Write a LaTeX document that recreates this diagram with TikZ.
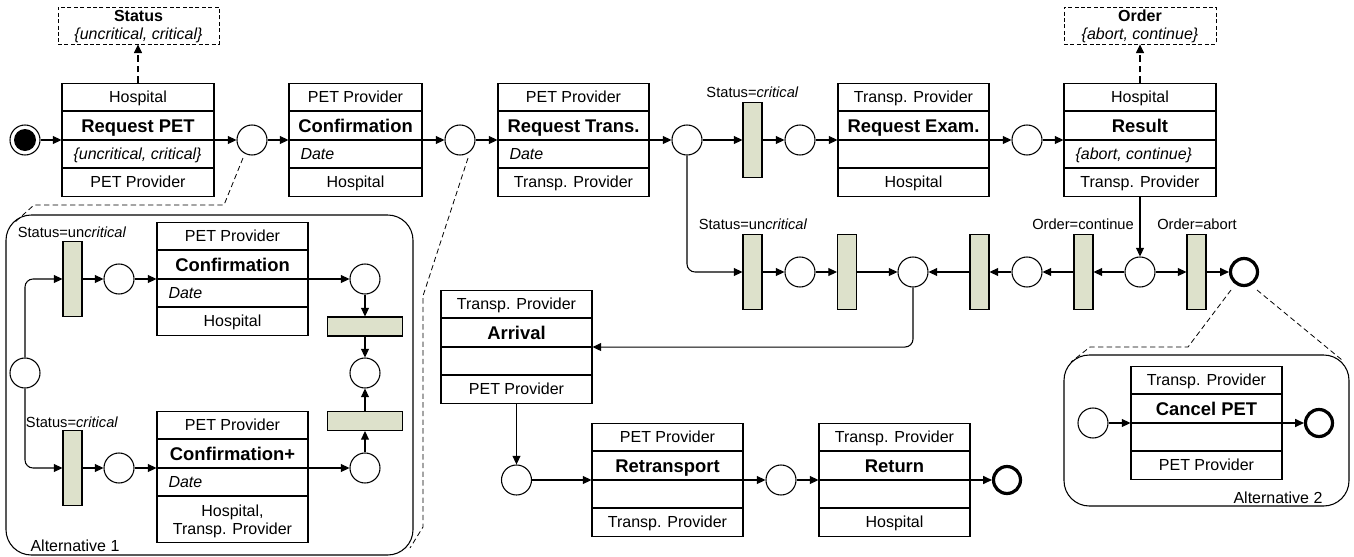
\documentclass[tikz,border=0pt]{standalone}
\usepackage{fontspec}
\setmainfont{Liberation Sans}
\usetikzlibrary{arrows.meta,calc}
\definecolor{transfill}{RGB}{221,225,203}

% #1 name, #2 cx, #3 y of arrow line, #4 width, #5 role, #6 title, #7 param, #8 receiver, #9 bottom row height
\newcommand\msgbox[9]{%
  \node[frame, minimum width=#4*0.75pt, minimum height={(85+#9)*0.75pt}, anchor=north] (#1) at (#2,{#3-57}) {};
  \draw ({#2-#4/2},{#3-29}) -- ({#2+#4/2},{#3-29});
  \draw ({#2-#4/2},#3) -- ({#2+#4/2},#3);
  \draw ({#2-#4/2},{#3+28}) -- ({#2+#4/2},{#3+28});
  \node[roletext] (#1-r) at (#2,{#3-43}) {#5};
  \node[titletext] (#1-t) at (#2,{#3-14.5}) {#6};
  \node[paramtext] (#1-p) at ({#2-#4/2+11},{#3+14}) {#7};
  \node[roletext] (#1-s) at (#2,{#3+28+#9/2}) {#8};
}

\begin{document}
\begin{tikzpicture}[x=0.75pt, y=-0.75pt, line width=0.8pt,
  basefont/.style={font=\fontsize{12}{13.5}\selectfont, inner sep=0pt},
  roletext/.style={basefont, text height=8.6pt, text depth=0pt},
  titletext/.style={font=\fontsize{13.8}{16}\selectfont\bfseries, inner sep=0pt, text height=9.9pt, text depth=0pt},
  paramtext/.style={font=\fontsize{12}{14}\selectfont\itshape, inner sep=0pt, anchor=west, text height=8.6pt, text depth=0pt},
  lbl/.style={font=\fontsize{11}{13}\selectfont, inner sep=0pt},
  frame/.style={rectangle, draw, inner sep=0pt, fill=white},
  place/.style={circle, draw, fill=white, minimum size=22.5pt, inner sep=0pt},
  endplace/.style={circle, draw, fill=white, line width=2.4pt, minimum size=20.25pt, inner sep=0pt},
  trans/.style={rectangle, draw, fill=transfill, minimum width=14.25pt, minimum height=56.25pt, inner sep=0pt},
  htrans/.style={rectangle, draw, fill=transfill, minimum width=56.25pt, minimum height=14.25pt, inner sep=0pt},
  arr/.style={-{Triangle[length=6.5pt,width=6pt]}},
  callout/.style={line width=0.6pt, dash pattern=on 4pt off 2.5pt},
  databox/.style={rectangle, draw, line width=0.6pt, dash pattern=on 3pt off 1.8pt, inner sep=0pt},
  group/.style={rectangle, draw, rounded corners=19pt, inner sep=0pt}
]
\useasboundingbox (0,0) rectangle (1354,557);

% groups
\node[group, minimum width=407*0.75pt, minimum height=340*0.75pt] (alt1) at (209.5,385) {};
\node[group, minimum width=285*0.75pt, minimum height=151*0.75pt] (alt2) at (1206.5,430.5) {};
\node[basefont, anchor=west] (alt1l) at (30,546) {Alternative 1};
\node[basefont, anchor=east] (alt2l) at (1323,498) {Alternative 2};

% callout lines
\coordinate (c1a) at (243,158); \coordinate (c1b) at (224,205); \coordinate (c1c) at (34,205); \coordinate (c1d) at (14,223);
\coordinate (c2a) at (468,158); \coordinate (c2b) at (423,296); \coordinate (c2c) at (423,527); \coordinate (c2d) at (410,548);
\coordinate (c3a) at (1231,290); \coordinate (c3b) at (1188,347); \coordinate (c3c) at (1090,347); \coordinate (c3d) at (1071,362);
\coordinate (c4a) at (1257,290); \coordinate (c4b) at (1342,360);
\draw[callout] (c1a) -- (c1b) -- (c1c) -- (c1d);
\draw[callout] (c2a) -- (c2b) -- (c2c) -- (c2d);
\draw[callout] (c3a) -- (c3b) -- (c3c) -- (c3d);
\draw[callout] (c4a) -- (c4b);

% top row
\node[place] (s0) at (25,140) {};
\node[circle, fill=black, minimum size=16.5pt, inner sep=0pt] (s0i) at (25,140) {};
\msgbox{rp}{138}{140}{152}{Hospital}{Request PET}{\{uncritical, critical\}}{PET Provider}{28}
\node[place] (p1) at (252,140) {};
\msgbox{cf}{355.5}{140}{133}{PET Provider}{Confirmation}{Date}{Hospital}{28}
\node[place] (p2) at (460,140) {};
\msgbox{rt}{573.5}{140}{151}{PET Provider}{Request Trans.}{Date}{Transp. Provider}{28}
\node[place] (p3) at (687,140) {};
\node[trans] (t1) at (752.5,140) {};
\node[lbl] (t1l) at (752.5,92) {Status=\textit{critical}};
\node[place] (p4) at (800,140) {};
\msgbox{re}{913.5}{140}{151}{Transp. Provider}{Request Exam.}{}{Hospital}{28}
\node[place] (p5) at (1027,140) {};
\msgbox{rs}{1140}{140}{152}{Hospital}{Result}{\{abort, continue\}}{Transp. Provider}{28}

% data boxes
\node[databox, minimum width=161*0.75pt, minimum height=37*0.75pt] (stat) at (138.5,25.5) {};
\node[basefont, font=\fontsize{12}{13.5}\selectfont\bfseries] (statn) at (138.5,16) {Status};
\node[basefont, font=\fontsize{12}{13.5}\selectfont\itshape] (statv) at (138.5,35) {\{uncritical, critical\}};
\node[databox, minimum width=152*0.75pt, minimum height=37*0.75pt] (ord) at (1140,25.5) {};
\node[basefont, font=\fontsize{12}{13.5}\selectfont\bfseries] (ordn) at (1140,16) {Order};
\node[basefont, font=\fontsize{12}{13.5}\selectfont\itshape] (ordv) at (1140,35) {\{abort, continue\}};
\draw[arr, dash pattern=on 5pt off 3pt] (rp.north) -- (rp.north |- stat.south);
\draw[arr, dash pattern=on 5pt off 3pt] (rs.north) -- (rs.north |- ord.south);

% top row connectors
\draw[arr] (s0) -- (s0 -| rp.west);
\draw[arr] (p1 -| rp.east) -- (p1);
\draw[arr] (p1) -- (p1 -| cf.west);
\draw[arr] (p2 -| cf.east) -- (p2);
\draw[arr] (p2) -- (p2 -| rt.west);
\draw[arr] (p3 -| rt.east) -- (p3);
\draw[arr] (p3) -- (t1);
\draw[arr] (t1) -- (p4);
\draw[arr] (p4) -- (p4 -| re.west);
\draw[arr] (p5 -| re.east) -- (p5);
\draw[arr] (p5) -- (p5 -| rs.west);

% lower chain
\node[trans] (t2) at (752.5,272) {};
\node[lbl] (t2l) at (753,224) {Status=un\textit{critical}};
\node[place] (q1) at (800,272) {};
\node[trans] (t3) at (847,272) {};
\node[place] (qm) at (913,272) {};
\node[trans] (t4) at (979.5,272) {};
\node[place] (q2) at (1027,272) {};
\node[trans] (t5) at (1083.5,272) {};
\node[lbl] (t5l) at (1083,224) {Order=continue};
\node[place] (q3) at (1140,272) {};
\node[trans] (t6) at (1196.5,272) {};
\node[lbl] (t6l) at (1197,224) {Order=abort};
\node[endplace] (qe) at (1244,272) {};

\draw[arr, rounded corners=6pt] (p3) |- (t2);
\draw[arr] (t2) -- (q1);
\draw[arr] (q1) -- (t3);
\draw[arr] (t3) -- (qm);
\draw[arr] (t4) -- (qm);
\draw[arr] (q2) -- (t4);
\draw[arr] (t5) -- (q2);
\draw[arr] (q3) -- (t5);
\draw[arr] (q3) -- (t6);
\draw[arr] (t6) -- (qe);
\draw[arr] (rs.south) -- (q3);

% bottom chain
\msgbox{ar}{516.5}{347}{151}{Transp. Provider}{Arrival}{}{PET Provider}{28}
\node[place] (r1) at (516.5,480) {};
\msgbox{rtp}{667.5}{480}{151}{PET Provider}{Retransport}{}{Transp. Provider}{28}
\node[place] (r2) at (781,480) {};
\msgbox{ret}{894.5}{480}{151}{Transp. Provider}{Return}{}{Hospital}{28}
\node[endplace] (r3) at (1007,480) {};

\draw[arr, rounded corners=6pt] (qm.south) |- (ar.east);
\draw[arr] (ar.south) -- (r1);
\draw[arr] (r1) -- (r1 -| rtp.west);
\draw[arr] (r2 -| rtp.east) -- (r2);
\draw[arr] (r2) -- (r2 -| ret.west);
\draw[arr] (r3 -| ret.east) -- (r3);

% Alternative 1
\node[place] (a0) at (25,373) {};
\node[trans] (ta1) at (72.5,279) {};
\node[lbl] (ta1l) at (72,232) {Status=un\textit{critical}};
\node[place] (a1) at (119,279) {};
\msgbox{cfa}{232.5}{279}{151}{PET Provider}{Confirmation}{Date}{Hospital}{28}
\node[place] (a2) at (365,279) {};
\node[htrans] (th1) at (365,326.5) {};
\node[place] (a3) at (365,373) {};
\node[htrans] (th2) at (365,421) {};
\node[trans] (tb1) at (72.5,468) {};
\node[lbl] (tb1l) at (72,422) {Status=\textit{critical}};
\node[place] (b1) at (119,468) {};
\msgbox{cfp}{232.5}{468}{151}{PET Provider}{Confirmation+}{Date}{}{46}
\node[basefont, align=center] (cfp-s2) at (232.5,521) {Hospital,\\Transp. Provider};
\node[place] (b2) at (365,468) {};

\draw[arr, rounded corners=6pt] (a0) |- (ta1);
\draw[arr, rounded corners=6pt] (a0) |- (tb1);
\draw[arr] (ta1) -- (a1);
\draw[arr] (a1) -- (a1 -| cfa.west);
\draw[arr] (a2 -| cfa.east) -- (a2);
\draw[arr] (a2) -- (th1);
\draw[arr] (th1) -- (a3);
\draw[arr] (tb1) -- (b1);
\draw[arr] (b1) -- (b1 -| cfp.west);
\draw[arr] (b2 -| cfp.east) -- (b2);
\draw[arr] (b2) -- (th2);
\draw[arr] (th2) -- (a3);

% Alternative 2
\node[place] (c0) at (1093,423) {};
\msgbox{cp}{1206.5}{423}{151}{Transp. Provider}{Cancel PET}{}{PET Provider}{28}
\node[endplace] (ce) at (1319,423) {};
\draw[arr] (c0) -- (c0 -| cp.west);
\draw[arr] (ce -| cp.east) -- (ce);

\end{tikzpicture}
\end{document}
